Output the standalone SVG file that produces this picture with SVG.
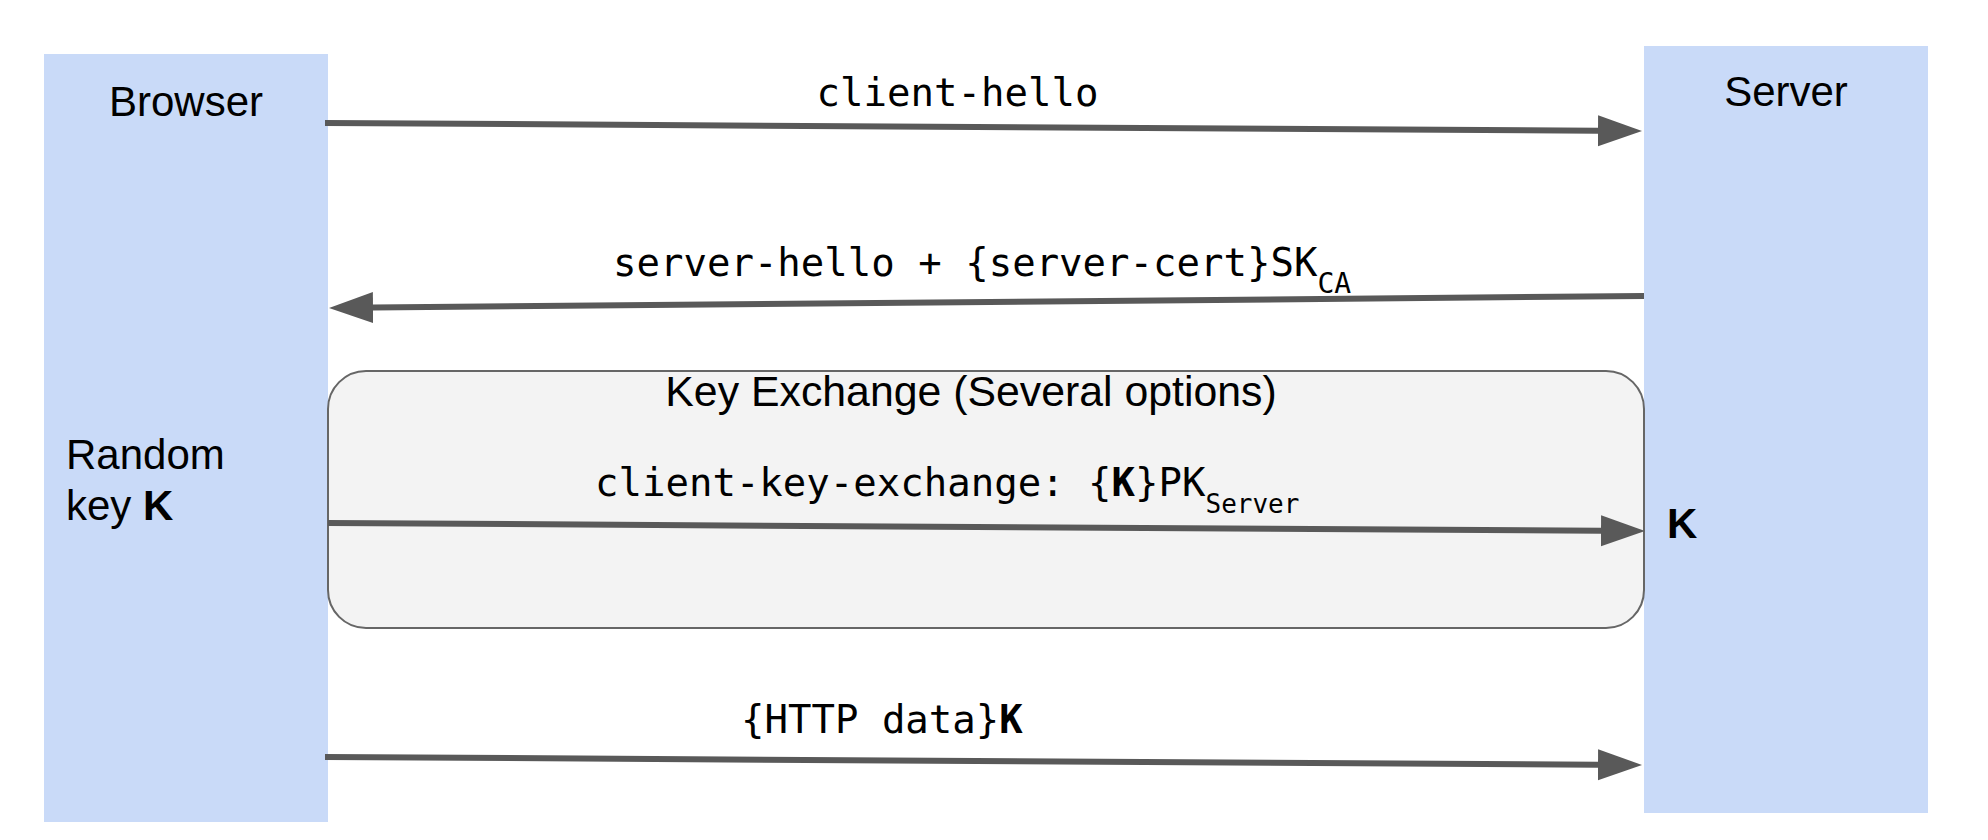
<svg xmlns="http://www.w3.org/2000/svg" width="1988" height="840" viewBox="0 0 1988 840">
  <style>
    .lane { fill: #c9daf8; }
    .group { fill: #f3f3f3; stroke: #666666; stroke-width: 2; }
    .sans { font-family: "Liberation Sans", Arial, sans-serif; font-size: 42px; fill: #000000; }
    .mono { font-family: "DejaVu Sans Mono", monospace; font-size: 39px; fill: #000000; }
    .sub { font-size: 26px; }
    .b { font-weight: bold; }
    .msg { stroke: #595959; stroke-width: 6; fill: none; marker-end: url(#arrow); }
  </style>
  <defs>
    <marker id="arrow" markerUnits="userSpaceOnUse" markerWidth="46" markerHeight="32" refX="0" refY="15.5" orient="auto">
      <path d="M0,0 L44,15.5 L0,31 Z" fill="#595959"/>
    </marker>
  </defs>
  <rect width="1988" height="840" fill="#ffffff"/>

  <g id="browser">
    <rect class="lane" x="44" y="54" width="284" height="768"/>
    <text class="sans" x="186" y="116" text-anchor="middle">Browser</text>
    <text class="sans" x="66" y="469">Random</text>
    <text class="sans" x="66" y="520">key <tspan class="b">K</tspan></text>
  </g>

  <g id="server">
    <rect class="lane" x="1644" y="46" width="284" height="767"/>
    <text class="sans" x="1786" y="106" text-anchor="middle">Server</text>
    <text class="sans b" x="1667" y="538">K</text>
  </g>

  <g id="key-exchange">
    <rect class="group" x="328" y="371" width="1316" height="257" rx="38" ry="38"/>
    <text class="sans" x="971" y="406" text-anchor="middle" style="font-size:42.8px">Key Exchange (Several options)</text>
  </g>

  <g id="connectors">
    <line class="msg" x1="325" y1="123" x2="1598" y2="130.7"/>
    <line class="msg" x1="1644" y1="296" x2="373" y2="307.6"/>
    <line class="msg" x1="328" y1="523" x2="1601" y2="530.7"/>
    <line class="msg" x1="325" y1="757" x2="1598" y2="764.7"/>
  </g>

  <g id="labels">
    <text class="mono" x="957.5" y="106" text-anchor="middle">client-hello</text>
    <text class="mono" x="613" y="276">server-hello + {server-cert}SK<tspan class="sub" dy="17" style="font-size:28px">CA</tspan></text>
    <text class="mono" x="595" y="496">client-key-exchange: {<tspan class="b">K</tspan>}PK<tspan class="sub" dy="17">Server</tspan></text>
    <text class="mono" x="741" y="732.7">{HTTP data}<tspan class="b">K</tspan></text>
  </g>
</svg>
